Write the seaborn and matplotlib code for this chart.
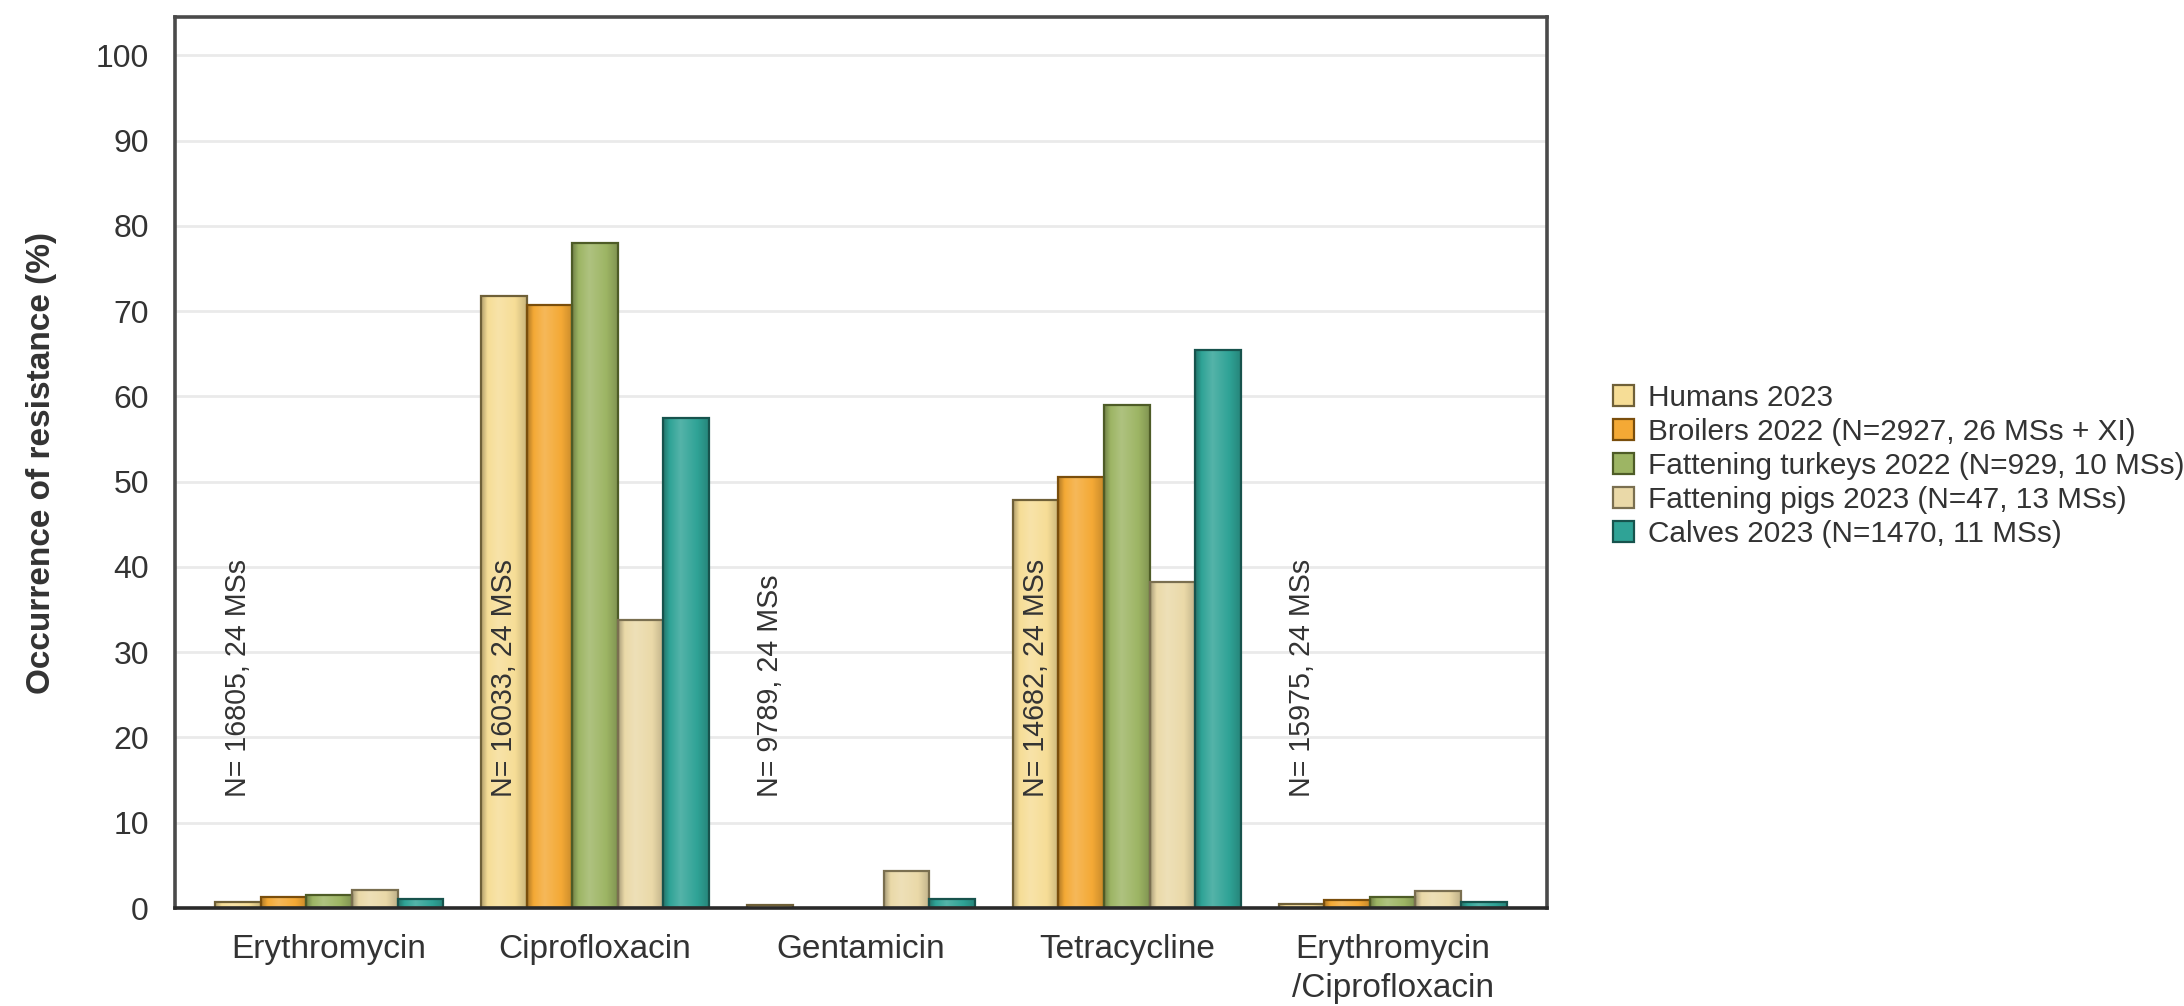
import numpy as np
import pandas as pd
import matplotlib
matplotlib.use("Agg")
import matplotlib.pyplot as plt
import matplotlib.patches as mpatches
from matplotlib.colors import to_rgb, LinearSegmentedColormap
import seaborn as sns

# data
antimicrobials = ["Erythromycin", "Ciprofloxacin", "Gentamicin", "Tetracycline",
                  "Erythromycin\n/Ciprofloxacin"]
groups = ["Humans 2023",
          "Broilers 2022 (N=2927, 26 MSs + XI)",
          "Fattening turkeys 2022 (N=929, 10 MSs)",
          "Fattening pigs 2023 (N=47, 13 MSs)",
          "Calves 2023 (N=1470, 11 MSs)"]
humans = [0.7, 71.8, 0.4, 47.8, 0.5]
broilers = [1.3, 70.7, np.nan, 50.5, 0.9]
turkeys = [1.5, 78.0, np.nan, 59.0, 1.3]
pigs = [2.1, 33.8, 4.3, 38.2, 2.0]
calves = [1.0, 57.5, 1.0, 65.5, 0.7]
n_labels = ["N= 16805, 24 MSs", "N= 16033, 24 MSs", "N= 9789, 24 MSs",
            "N= 14682, 24 MSs", "N= 15975, 24 MSs"]

fills = ["#F6DD96", "#F4A935", "#9DB564", "#EAD9A8", "#2FA396"]
edges = ["#6F6038", "#7A4E0C", "#4E5C27", "#7A6F50", "#17534D"]

rows = []
for g, vals in zip(groups, [humans, broilers, turkeys, pigs, calves]):
    for a, v in zip(antimicrobials, vals):
        rows.append({"antimicrobial": a, "group": g, "value": v})
df = pd.DataFrame(rows)

sns.set_style("white")
plt.rcParams["font.family"] = ["Liberation Sans", "DejaVu Sans"]
plt.rcParams["text.color"] = "#333333"

fig = plt.figure(figsize=(10.92, 5.03), dpi=200)
ax = fig.add_axes([0.0801, 0.0974, 0.6282, 0.8857])

ax.yaxis.grid(True, color="#EAEAEA", linewidth=1.0, zorder=0)
ax.set_axisbelow(True)

bar_w = 0.857
sns.barplot(data=df, x="antimicrobial", y="value", hue="group",
            order=antimicrobials, hue_order=groups, palette=fills,
            width=bar_w, linewidth=0.8, saturation=1, legend=False, ax=ax,
            err_kws={"linewidth": 0})

# soft cylinder shading: darker sides, slightly lighter band left of centre
grad = np.linspace(0, 1, 96).reshape(1, -1)
for cont, fc, ec in zip(ax.containers, fills, edges):
    base = np.array(to_rgb(fc))
    light = base + (1 - base) * 0.18
    cmap = LinearSegmentedColormap.from_list(
        "bar", [(0, base * 0.72), (0.14, base), (0.38, light), (0.75, base), (1, base * 0.82)])
    for p in cont:
        h = p.get_height()
        if not np.isfinite(h) or h == 0:
            continue
        x0, y0, w = p.get_x(), p.get_y(), p.get_width()
        im = ax.imshow(grad, extent=[x0, x0 + w, y0, y0 + h], cmap=cmap,
                       aspect="auto", interpolation="bicubic", zorder=2.5)
        im.set_clip_path(p)
        p.set_facecolor("none")
        p.set_edgecolor(ec)
        p.set_zorder(3)

# sample size notes, written over the first bar of each group
offset = -bar_w / 2 + bar_w / 10
for i, txt in enumerate(n_labels):
    ax.text(i + offset, 13.0, txt, rotation=90, ha="center", va="bottom",
            fontsize=10.3, color="#333333", zorder=4)

ax.set_xlim(-0.58, 4.58)
ax.set_ylim(0, 104.5)
ax.set_yticks(range(0, 101, 10))
ax.set_xlabel("")
ax.set_ylabel("Occurrence of resistance (%)", fontsize=12, fontweight="bold",
              color="#333333", labelpad=14)
ax.tick_params(axis="y", length=5.4, width=0.6, color="#444444", pad=4,
               labelsize=11.5, labelcolor="#333333")
ax.tick_params(axis="x", length=0, pad=9.5, labelsize=12, labelcolor="#333333")
for lab in ax.get_xticklabels():
    lab.set_linespacing(1.3)

for s in ax.spines.values():
    s.set_visible(True)
    s.set_color("#4A4A4A")
    s.set_linewidth(1.3)
    s.set_zorder(5)
ax.spines["bottom"].set_color("#2A2A2A")

handles = [mpatches.Patch(facecolor=f, edgecolor=e, linewidth=0.8, label=g)
           for f, e, g in zip(fills, edges, groups)]
fig.legend(handles=handles, loc="center left", bbox_to_anchor=(0.733, 0.537),
           frameon=False, fontsize=10.7, handlelength=0.7, handleheight=0.7,
           handletextpad=0.5, labelspacing=0.2, borderaxespad=0)

fig.savefig("out.png", dpi=200)
